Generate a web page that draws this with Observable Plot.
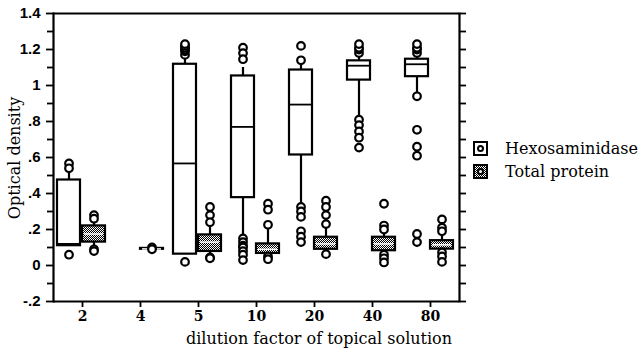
<!DOCTYPE html>
<html><head><meta charset="utf-8">
<script src="https://cdn.jsdelivr.net/npm/d3@7"></script>
<script src="https://cdn.jsdelivr.net/npm/@observablehq/plot@0.6"></script>
<style>
body{margin:0;background:#fff}
#wrap{position:relative;width:643px;height:350px;background:#fff;overflow:hidden}
.serif{font-family:"DejaVu Serif",serif;color:#000;position:absolute;white-space:nowrap;line-height:1}
.sq{position:absolute;width:11px;height:11px;border:2px solid #000;box-sizing:content-box}
.sq i{position:absolute;left:2px;top:2px;width:3px;height:3px;border:2px solid #000;border-radius:50%;background:#fff}
</style></head><body>
<div id="wrap"></div>
<script>
const categories = ["2","4","5","10","20","40","80"];
const seriesNames = ["Hexosaminidase","Total protein"];

// Hexosaminidase box statistics (null = not measured)
const hexLow  = [0.11, null, 0.063, 0.15, 0.334, 0.82, 0.95];
const hexQ1   = [0.11, null, 0.063, 0.377, 0.614, 1.03, 1.049];
const hexMed  = [0.12, null, 0.567, 0.77, 0.894, 1.11, 1.118];
const hexQ3   = [0.475, null, 1.118, 1.053, 1.086, 1.137, 1.146];
const hexHigh = [0.52, null, 1.16, 1.1, 1.12, 1.17, 1.17];
const hexOut  = [
  [0.567, 0.54, 0.06],
  [],
  [1.17, 1.19, 1.2, 1.21, 1.22, 1.23, 0.02],
  [1.21, 1.18, 1.146, 0.15, 0.13, 0.11, 0.1, 0.08, 0.06, 0.03],
  [1.22, 1.14, 0.325, 0.3, 0.27, 0.19, 0.16, 0.13],
  [1.18, 1.2, 1.21, 1.23, 0.81, 0.78, 0.745, 0.71, 0.655],
  [1.18, 1.2, 1.21, 1.23, 0.94, 0.754, 0.66, 0.61, 0.175, 0.13]
];

// Total protein box statistics
const protLow  = [0.11, 0.09, 0.06, 0.06, 0.07, 0.07, 0.08];
const protQ1   = [0.13, 0.09, 0.078, 0.067, 0.09, 0.082, 0.091];
const protMed  = [0.175, 0.092, 0.13, 0.09, 0.12, 0.12, 0.115];
const protQ3   = [0.22, 0.095, 0.17, 0.12, 0.157, 0.157, 0.138];
const protHigh = [0.25, 0.095, 0.23, 0.22, 0.21, 0.2, 0.196];
const protOut  = [
  [0.28, 0.26, 0.09, 0.08],
  [0.1, 0.09],
  [0.325, 0.28, 0.24, 0.045, 0.04],
  [0.343, 0.31, 0.226, 0.05, 0.035],
  [0.36, 0.325, 0.28, 0.23, 0.063],
  [0.343, 0.222, 0.2, 0.06, 0.04, 0.017],
  [0.256, 0.21, 0.19, 0.073, 0.05, 0.02]
];

const yMajor = [-0.2, 0, 0.2, 0.4, 0.6, 0.8, 1, 1.2, 1.4];
const yTickLabels = ["-.2", "0", ".2", ".4", ".6", ".8", "1", "1.2", "1.4"];
const yMinor = [-0.1, 0.1, 0.3, 0.5, 0.7, 0.9, 1.1, 1.3];
const yAll = yMajor.concat(yMinor);

const xTitle = "dilution factor of topical solution";
const yTitle = "Optical density";

const seriesDefs = [
  {name: seriesNames[0], low: hexLow, q1: hexQ1, med: hexMed, q3: hexQ3, high: hexHigh, out: hexOut},
  {name: seriesNames[1], low: protLow, q1: protQ1, med: protMed, q3: protQ3, high: protHigh, out: protOut}
];
const boxes = [], outliers = [];
for (const s of seriesDefs) {
  categories.forEach((c, i) => {
    if (s.q1[i] == null) return;
    boxes.push({cat: c, series: s.name, low: s.low[i], q1: s.q1[i], med: s.med[i], q3: s.q3[i], high: s.high[i]});
    s.out[i].forEach(v => outliers.push({cat: c, series: s.name, value: v}));
  });
}
const hexBoxes = boxes.filter(d => d.series === seriesNames[0]);
const protBoxes = boxes.filter(d => d.series === seriesNames[1]);

const chart = Plot.plot({
  width: 643, height: 350,
  marginLeft: 50, marginRight: 181, marginTop: 13, marginBottom: 49,
  style: {fontFamily: '"Liberation Sans", Arial, sans-serif', fontSize: "14px", color: "black", background: "white", overflow: "visible"},
  fx: {domain: categories, padding: 0, label: null},
  x: {domain: seriesNames, paddingInner: 0.1, paddingOuter: 0.2, align: 0.4, axis: null},
  y: {domain: [-0.2, 1.4]},
  marks: [
    Plot.axisFx({anchor: "bottom", tickSize: 6, tickPadding: 4, fontSize: 14, fontFamily: '"DejaVu Serif", serif', fontWeight: "bold", label: null, strokeWidth: 1.8}),
    Plot.axisY({anchor: "left", ticks: yMajor, tickFormat: d => yTickLabels[yMajor.findIndex(v => Math.abs(v - d) < 1e-9)], tickSize: 7, tickPadding: 6, fontSize: 15, fontWeight: "bold", label: null, strokeWidth: 1.8}),
    Plot.axisY({anchor: "left", ticks: yMinor, tickSize: 6, text: null, label: null, strokeWidth: 1.8}),
    Plot.axisY({anchor: "right", ticks: yAll, tickSize: 6, text: null, label: null, strokeWidth: 1.8}),
    Plot.frame({anchor: "left", facetAnchor: "left", strokeWidth: 2.2}),
    Plot.frame({anchor: "right", facetAnchor: "right", strokeWidth: 2.2}),
    Plot.ruleY([1.4], {strokeWidth: 1.8}),
    Plot.ruleY([-0.2], {strokeWidth: 2}),
    Plot.ruleX(boxes, {fx: "cat", x: "series", y1: "low", y2: "high", stroke: "black", strokeWidth: 2.2}),
    Plot.barY(hexBoxes, {fx: "cat", x: "series", y1: "q1", y2: "q3", fill: "white", stroke: "black", strokeWidth: 2.2}),
    Plot.barY(protBoxes, {fx: "cat", x: "series", y1: "q1", y2: "q3", fill: "url(#checker)", stroke: "black", strokeWidth: 2.2}),
    Plot.tickY(hexBoxes, {fx: "cat", x: "series", y: "med", stroke: "black", strokeWidth: 1.8}),
    Plot.tickY(protBoxes, {fx: "cat", x: "series", y: "med", stroke: "white", strokeWidth: 1.5, inset: 2}),
    Plot.dot(outliers, {fx: "cat", x: "series", y: "value", r: 3.8, stroke: "black", strokeWidth: 2.2, fill: "white"})
  ]
});

// checker pattern for the Total protein boxes
const ns = "http://www.w3.org/2000/svg";
const defs = document.createElementNS(ns, "defs");
defs.innerHTML = '<pattern id="checker" width="2" height="2" patternUnits="userSpaceOnUse"><rect width="2" height="2" fill="#fff"/><rect width="1" height="1" fill="#000"/><rect x="1" y="1" width="1" height="1" fill="#000"/></pattern>';
chart.insertBefore(defs, chart.firstChild);

const wrap = document.getElementById("wrap");
wrap.appendChild(chart);
chart.style.position = "absolute"; chart.style.left = "0"; chart.style.top = "0";

function addText(txt, css) {
  const d = document.createElement("div");
  d.className = "serif";
  d.textContent = txt;
  Object.assign(d.style, css);
  wrap.appendChild(d);
  return d;
}
addText(xTitle, {left: "319px", top: "339px", fontSize: "16px", transform: "translate(-50%,-50%)"});
addText(yTitle, {left: "15px", top: "158px", fontSize: "16px", transform: "translate(-50%,-50%) rotate(-90deg)"});

// legend
function addSwatch(top, patterned, label) {
  const s = document.createElement("div");
  s.className = "sq";
  s.style.left = "473px"; s.style.top = top + "px";
  s.style.background = patterned ? "repeating-conic-gradient(#000 0 25%, #fff 0 50%) 0 0/2px 2px" : "#fff";
  s.appendChild(document.createElement("i"));
  wrap.appendChild(s);
  addText(label, {left: "505px", top: (top + 8) + "px", fontSize: "16px", transform: "translateY(-50%)"});
}
addSwatch(141, false, seriesNames[0]);
addSwatch(164, true, seriesNames[1]);
</script>
</body></html>
